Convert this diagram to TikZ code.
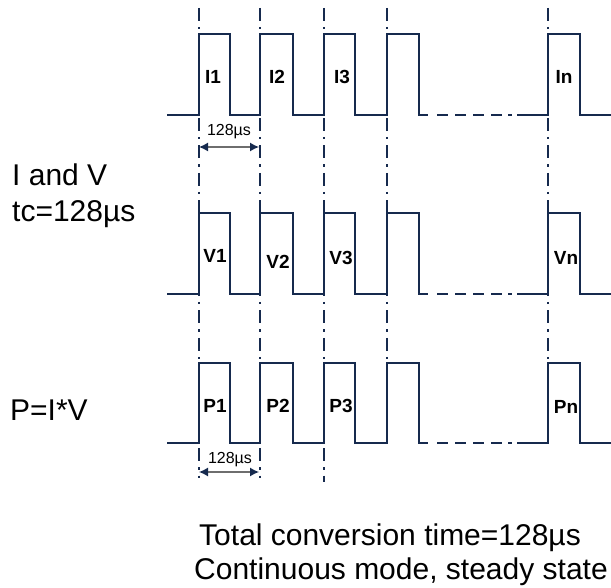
\documentclass[tikz,border=0pt]{standalone}
\usepackage{fontspec}
\setmainfont{Liberation Sans}
\usetikzlibrary{arrows.meta}
\definecolor{navy}{RGB}{22,42,78}
\definecolor{shaft}{RGB}{110,110,110}
\begin{document}
\begin{tikzpicture}[x=1pt,y=-1pt,
  wave/.style={draw=navy,line width=2.4pt,line join=miter},
  gapdash/.style={draw=navy,line width=2.4pt,dash pattern=on 11pt off 7pt},
  guide/.style={draw=navy,line width=1.9pt,dash pattern=on 13pt off 6pt on 2.5pt off 6pt},
  lbl/.style={font=\bfseries\fontsize{19}{19}\selectfont,inner sep=0pt},
  side/.style={font=\fontsize{30}{30}\selectfont,inner sep=0pt,anchor=base west},
  bottomtext/.style={font=\fontsize{30}{30}\selectfont,inner sep=0pt,anchor=base west},
  tm/.style={font=\fontsize{16}{16}\selectfont,inner sep=0pt,anchor=base},
  dim/.style={draw=shaft,line width=1.3pt,{Latex[color=navy,length=9pt,width=9pt]}-{Latex[color=navy,length=9pt,width=9pt]}}]
\useasboundingbox (0,0) rectangle (611,588);
% guide lines
\coordinate (g1t) at (199,8); \coordinate (g1b) at (199,478);
\coordinate (g2t) at (260,8); \coordinate (g2b) at (260,478);
\coordinate (g3t) at (324,8); \coordinate (g3b) at (324,482);
\coordinate (g4t) at (387,8); \coordinate (g4b) at (387,362);
\coordinate (g5t) at (548,8); \coordinate (g5b) at (548,395);
\draw[guide] (g1t) -- (g1b);
\draw[guide] (g2t) -- (g2b);
\draw[guide] (g3t) -- (g3b);
\draw[guide] (g4t) -- (g4b);
\draw[guide] (g5t) -- (g5b);
% waveforms
\foreach \lo/\hi in {115/34, 294/213, 443/363}{
  \draw[wave] (167,\lo) -- (199,\lo) -- (199,\hi) -- (230,\hi) -- (230,\lo) -- (260,\lo) -- (260,\hi) -- (293,\hi) -- (293,\lo) -- (324,\lo) -- (324,\hi) -- (355,\hi) -- (355,\lo) -- (387,\lo) -- (387,\hi) -- (419,\hi) -- (419,\lo) -- (428,\lo);
  \draw[gapdash] (437,\lo) -- (503,\lo);
  \draw[navy,line width=2.4pt] (508,\lo) -- (511.5,\lo);
  \draw[wave] (517,\lo) -- (548,\lo) -- (548,\hi) -- (580,\hi) -- (580,\lo) -- (611,\lo);
}
% labels
\node[lbl] (i1) at (213,77) {I1};
\node[lbl] (i2) at (277,77) {I2};
\node[lbl] (i3) at (342,77) {I3};
\node[lbl] (in) at (564,77) {In};
\node[lbl] (v1) at (215,256) {V1};
\node[lbl] (v2) at (278,262) {V2};
\node[lbl] (v3) at (341,258) {V3};
\node[lbl] (vn) at (566,258) {Vn};
\node[lbl] (p1) at (215,406) {P1};
\node[lbl] (p2) at (278,406) {P2};
\node[lbl] (p3) at (341,406) {P3};
\node[lbl] (pn) at (566,407) {Pn};
% dimension arrows
\coordinate (a1l) at (199,147); \coordinate (a1r) at (259,147);
\draw[dim] (a1l) -- (a1r);
\node[tm] (t1) at (229,136) {128µs};
\coordinate (a2l) at (199,472); \coordinate (a2r) at (259,472);
\draw[dim] (a2l) -- (a2r);
\node[tm] (t2) at (230,463) {128µs};
% side texts
\node[side] (iv1) at (12,186) {I and V};
\node[side] (iv2) at (12,222) {tc=128µs};
\node[side] (p) at (10,420) {P=I*V};
\node[bottomtext] (tot1) at (199,545) {Total conversion time=128µs};
\node[bottomtext] (tot2) at (194,579) {Continuous mode, steady state};
\end{tikzpicture}
\end{document}
